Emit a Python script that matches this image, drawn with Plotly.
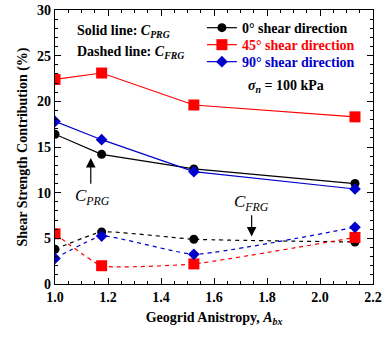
import plotly.graph_objects as go

anisotropy = [1.0, 1.176, 1.524, 2.132]

prg_0 = [16.4, 14.2, 12.6, 11.0]
prg_45 = [22.4, 23.1, 19.6, 18.3]
prg_90 = [17.8, 15.8, 12.3, 10.4]

frg_0 = [3.8, 5.7, 4.9, 4.6]
frg_45 = [5.5, 2.0, 2.2, 5.1]
frg_90 = [2.8, 5.25, 3.25, 6.2]

names = ["0° shear direction", "45° shear direction", "90° shear direction"]
colors = ["black", "red", "#0000cc"]
symbols = ["circle", "square", "diamond"]
sizes = [9, 11, 9]
legend_ids = ["legend", "legend2", "legend3"]
legend_rows_y = [0.934, 0.872, 0.810]

FONT = "Liberation Serif, Times New Roman, serif"

fig = go.Figure()

for name, col, sym, sz, ys, lg in zip(names, colors, symbols, sizes,
                                       [prg_0, prg_45, prg_90], legend_ids):
    fig.add_trace(go.Scatter(
        x=anisotropy, y=ys, mode="lines+markers",
        name=f'<span style="color:{col}">{name}</span>', legend=lg,
        line=dict(color=col, width=1.2),
        marker=dict(symbol=sym, size=sz, color=col),
    ))

for col, sym, sz, ys in zip(colors, symbols, sizes, [frg_0, frg_45, frg_90]):
    fig.add_trace(go.Scatter(
        x=anisotropy, y=ys, mode="lines+markers", showlegend=False,
        line=dict(color=col, width=1.2, dash="4px,4px", shape="spline", smoothing=0.4),
        marker=dict(symbol=sym, size=sz, color=col),
    ))

annots = [
    dict(x=1.075, y=27.7, xref="x", yref="y", text="Solid line: <i>C</i><sub><i>PRG</i></sub>",
         showarrow=False, xanchor="left", font=dict(size=14)),
    dict(x=1.075, y=25.3, xref="x", yref="y", text="Dashed line: <i>C</i><sub><i>FRG</i></sub>",
         showarrow=False, xanchor="left", font=dict(size=14)),
    dict(x=1.87, y=21.6, xref="x", yref="y", text="<i>σ</i><sub><i>n</i></sub> = 100 kPa",
         showarrow=False, xanchor="center", font=dict(size=14)),
    dict(x=1.135, y=13.8, ax=1.135, ay=10.8, xref="x", yref="y", axref="x", ayref="y",
         text="", showarrow=True, arrowhead=2, arrowsize=1.6, arrowwidth=1.2, arrowcolor="black"),
    dict(x=1.14, y=9.5, xref="x", yref="y", text="<i>C</i><sub><i>PRG</i></sub>",
         showarrow=False, font=dict(size=17, weight="normal")),
    dict(x=1.742, y=5.2, ax=1.742, ay=7.7, xref="x", yref="y", axref="x", ayref="y",
         text="", showarrow=True, arrowhead=2, arrowsize=1.6, arrowwidth=1.2, arrowcolor="black"),
    dict(x=1.742, y=8.9, xref="x", yref="y", text="<i>C</i><sub><i>FRG</i></sub>",
         showarrow=False, font=dict(size=17, weight="normal")),
]

layout_legends = {}
for lg, ly in zip(legend_ids, legend_rows_y):
    layout_legends[lg] = dict(x=0.462, y=ly, xanchor="left", yanchor="middle",
                              bgcolor="rgba(0,0,0,0)", font=dict(size=14),
                              itemwidth=30, borderwidth=0)

fig.update_layout(
    width=387, height=337,
    margin=dict(l=55, r=14, t=10, b=53, autoexpand=False),
    paper_bgcolor="white", plot_bgcolor="white",
    font=dict(family=FONT, size=14, color="black", weight="bold"),
    showlegend=True,
    annotations=annots,
    xaxis=dict(
        range=[1.0, 2.2], dtick=0.2, tick0=1.0, tickformat=".1f", automargin=False,
        showgrid=False, zeroline=False, showline=True, linecolor="black", linewidth=1.2,
        mirror="ticks", ticks="inside", ticklen=6, tickcolor="black",
        minor=dict(dtick=0.05, ticks="inside", ticklen=3, tickcolor="black", showgrid=False),
        title=dict(text="Geogrid Anistropy, <i>A</i><sub><i>bx</i></sub>", font=dict(size=14), standoff=8),
    ),
    yaxis=dict(
        range=[0, 30], dtick=5, tick0=0, automargin=False,
        showgrid=False, zeroline=False, showline=True, linecolor="black", linewidth=1.2,
        mirror="ticks", ticks="inside", ticklen=6, tickcolor="black",
        minor=dict(dtick=1, ticks="inside", ticklen=3, tickcolor="black", showgrid=False),
        title=dict(text="Shear Strength Contribution (%)", font=dict(size=14), standoff=6),
    ),
    **layout_legends,
)

fig.write_html("out.html")
